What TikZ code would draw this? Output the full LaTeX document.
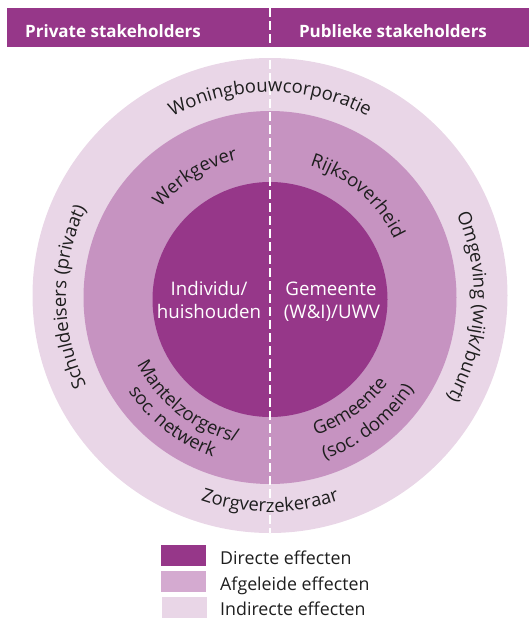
\documentclass[tikz,border=0pt]{standalone}
\usepackage{fontspec}
\setmainfont{Open Sans}
\usetikzlibrary{decorations.text,calc}
\definecolor{dark}{HTML}{963789}
\definecolor{mid}{HTML}{C693C1}
\definecolor{light}{HTML}{E9D6E7}
\definecolor{midleg}{HTML}{D4AAD0}
\definecolor{txt}{HTML}{1E1E1E}
\newcommand{\lblfont}{\fontsize{18.5}{21}\selectfont\color{txt}}
% clockwise arc text (top/sides): #1 centre angle, #2 baseline radius, #3 text
\newcommand{\cwtext}[3]{%
  \path[decorate,decoration={text along path,text align=center,text={|\lblfont|#3}}]
    ($(C)+({#1+70}:#2)$) arc[start angle={#1+70}, end angle={#1-70}, radius=#2];}
% counter-clockwise arc text (bottom)
\newcommand{\ccwtext}[3]{%
  \path[decorate,decoration={text along path,text align=center,text={|\lblfont|#3}}]
    ($(C)+({#1-70}:#2)$) arc[start angle={#1-70}, end angle={#1+70}, radius=#2];}
\begin{document}
\begin{tikzpicture}[x=1pt,y=1pt,
  hdr/.style={font=\bfseries\fontsize{17}{20}\selectfont, text=white, inner sep=0pt, anchor=base},
  inner/.style={font=\fontsize{18.7}{22}\selectfont, text=white, inner sep=0pt, anchor=base},
  legtext/.style={font=\fontsize{17.8}{20}\selectfont, text=txt, inner sep=0pt, anchor=base west},
  legbox/.style={minimum width=45pt, minimum height=21pt, inner sep=0pt, draw=none}]
\useasboundingbox (0,0) rectangle (529,-619);
% header
\fill[dark] (7,-8) rectangle (529,-47);
\node[hdr] (priv) at (113,-37) {Private stakeholders};
\node[hdr] (publ) at (393,-37) {Publieke stakeholders};
% circles
\coordinate (C) at (270,-297);
\fill[light] (270,-295.5) circle[radius=237.5];
\fill[mid] (270,-297.5) circle[radius=186.5];
\fill[dark] (270,-299.5) circle[radius=117.5];
% divider
\coordinate (dtop) at (270,-8);
\coordinate (dbot) at (270,-533);
\draw[white, line width=2pt, dash pattern=on 9pt off 4pt] (dtop) -- (dbot);
% outer ring labels
\cwtext{90}{205}{Woningbouwcorporatie}
\ccwtext{270}{215}{Zorgverzekeraar}
\cwtext{180}{204}{Schuldeisers (privaat)}
\cwtext{-3}{204}{Omgeving (wijk/buurt)}
% middle ring labels
\cwtext{122}{141}{Werkgever}
\cwtext{49}{137}{Rijksoverheid}
\ccwtext{232}{149}{Mantelzorgers/}
\ccwtext{232}{170}{soc. netwerk}
\ccwtext{306}{146}{Gemeente}
\ccwtext{308}{171}{(soc. domein)}
% inner labels
\node[inner] (ind1) at (209,-295) {Individu/};
\node[inner] (ind2) at (209,-318) {huishouden};
\node[inner] (gem1) at (331,-295) {Gemeente};
\node[inner] (gem2) at (332,-318) {(W\&I)/UWV};
% legend
\node[legbox, fill=dark] (k1) at (183.5,-555.5) {};
\node[legbox, fill=midleg] (k2) at (183.5,-581.5) {};
\node[legbox, fill=light] (k3) at (184.5,-607) {};
\node[legtext] (t1) at (220,-564) {Directe effecten};
\node[legtext] (t2) at (220,-590) {Afgeleide effecten};
\node[legtext] (t3) at (220,-615) {Indirecte effecten};
\end{tikzpicture}
\end{document}
